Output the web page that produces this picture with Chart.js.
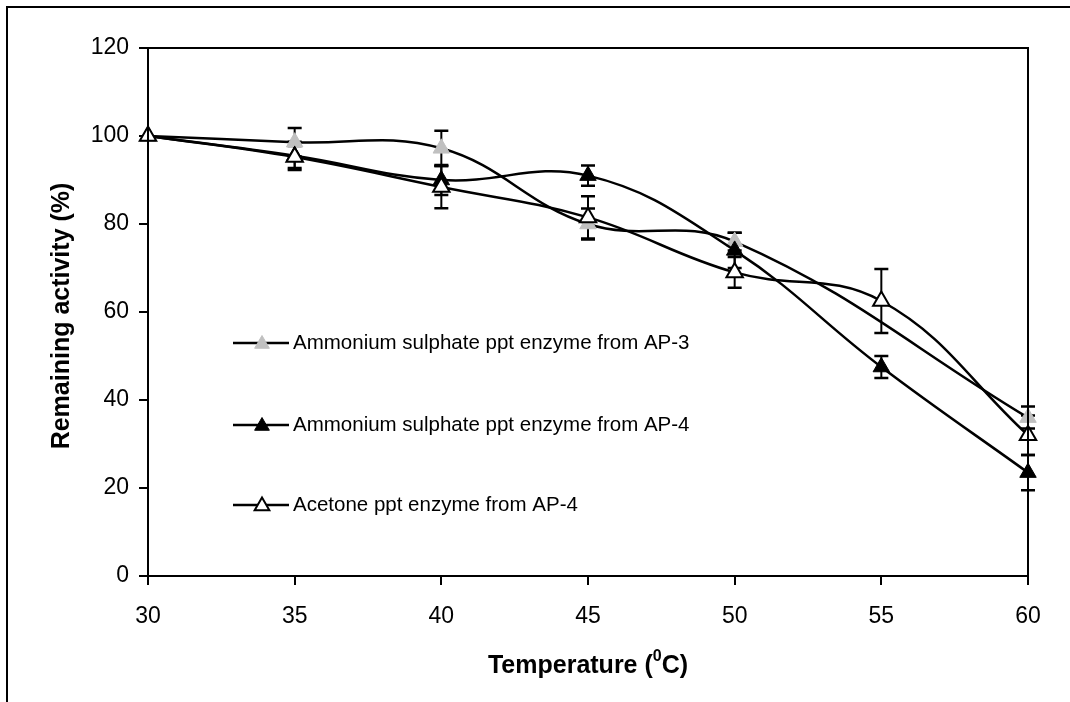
<!DOCTYPE html>
<html>
<head>
<meta charset="utf-8">
<script src="https://cdn.jsdelivr.net/npm/chart.js@4.4.1/dist/chart.umd.min.js"></script>
<style>
  html, body { margin: 0; padding: 0; background: #fff; }
  #wrap { width: 1070px; height: 702px; position: relative; }
</style>
</head>
<body>
<div id="wrap"><canvas id="myChart" width="1070" height="702"></canvas></div>
<script>
const temps = [30, 35, 40, 45, 50, 55, 60];
const ap3 = [100, 98.6, 97.2, 80, 76, null, 36];
const ap3Err = [0, 3.2, 4, 3.5, 2, null, 2.5];
const ap4 = [100, 95.5, 90, 91, 74, 47.5, 23.5];
const ap4Err = [0, 3.2, 3.4, 2.3, 4, 2.5, 4];
const acetone = [100, 95.2, 88.4, 81.5, 69, 62.5, 32];
const acetoneErr = [0, 2.5, 4.8, 4.8, 3.5, 7.3, 4.5];
const seriesNames = [
    'Ammonium sulphate ppt enzyme from AP-3',
    'Ammonium sulphate ppt enzyme from AP-4',
    'Acetone ppt enzyme from AP-4'
];
const yTicks = [0, 20, 40, 60, 80, 100, 120];

const FONT = '"Liberation Sans", Arial, sans-serif';

function points(values, errs) {
    return temps.map((t, i) => ({ x: t, y: values[i], err: errs[i] }))
        .filter(p => p.y !== null);
}

// error bars drawn under the markers
const errorBars = {
    id: 'errorBars',
    beforeDatasetsDraw(chart) {
        const ctx = chart.ctx;
        const xs = chart.scales.x, ys = chart.scales.y;
        ctx.save();
        ctx.strokeStyle = '#000';
        chart.data.datasets.forEach(ds => {
            ds.data.forEach(p => {
                if (!p.err) return;
                const x = xs.getPixelForValue(p.x);
                const top = ys.getPixelForValue(p.y + p.err);
                const bot = ys.getPixelForValue(p.y - p.err);
                ctx.lineWidth = 2;
                ctx.beginPath();
                ctx.moveTo(x, top); ctx.lineTo(x, bot);
                ctx.stroke();
                ctx.lineWidth = 2.5;
                ctx.beginPath();
                ctx.moveTo(x - 7, top); ctx.lineTo(x + 7, top);
                ctx.moveTo(x - 7, bot); ctx.lineTo(x + 7, bot);
                ctx.stroke();
            });
        });
        ctx.restore();
    }
};

function triangle(ctx, x, y, r, fill, stroke, lw) {
    ctx.beginPath();
    ctx.moveTo(x, y - r);
    ctx.lineTo(x + r * 0.866, y + r * 0.5);
    ctx.lineTo(x - r * 0.866, y + r * 0.5);
    ctx.closePath();
    ctx.fillStyle = fill;
    ctx.fill();
    ctx.strokeStyle = stroke;
    ctx.lineWidth = lw;
    ctx.stroke();
}

const decorations = {
    id: 'decorations',
    beforeDraw(chart) {
        const ctx = chart.ctx;
        ctx.save();
        ctx.strokeStyle = '#000';
        ctx.lineWidth = 2;
        ctx.beginPath();
        ctx.moveTo(7, 702); ctx.lineTo(7, 7); ctx.lineTo(1070, 7);
        ctx.stroke();
        ctx.restore();
    },
    afterDraw(chart) {
        const ctx = chart.ctx;
        const a = chart.chartArea;
        ctx.save();
        // plot frame
        ctx.strokeStyle = '#000';
        ctx.lineWidth = 2;
        ctx.strokeRect(a.left, a.top, a.right - a.left, a.bottom - a.top);

        // legend inside plot
        const rows = [343, 425, 505];
        chart.data.datasets.forEach((ds, i) => {
            const y = rows[i];
            ctx.strokeStyle = '#000';
            ctx.lineWidth = 2.5;
            ctx.beginPath();
            ctx.moveTo(233, y); ctx.lineTo(289, y);
            ctx.stroke();
            triangle(ctx, 262, y + 1, 8.5, ds.pointBackgroundColor, ds.pointBorderColor, ds.pointBorderWidth);
            ctx.fillStyle = '#000';
            ctx.font = '20.5px ' + FONT;
            ctx.textBaseline = 'middle';
            ctx.textAlign = 'left';
            ctx.fillText(ds.label, 293, y);
        });

        // axis titles
        ctx.fillStyle = '#000';
        ctx.textBaseline = 'middle';
        ctx.font = 'bold 25px ' + FONT;
        ctx.save();
        ctx.translate(62, (a.top + a.bottom) / 2 + 4);
        ctx.rotate(-Math.PI / 2);
        ctx.textAlign = 'center';
        ctx.fillText('Remaining activity (%)', 0, 0);
        ctx.restore();

        const p1 = 'Temperature (', p2 = '0', p3 = 'C)';
        ctx.font = 'bold 25px ' + FONT;
        const w1 = ctx.measureText(p1).width, w3 = ctx.measureText(p3).width;
        ctx.font = 'bold 16px ' + FONT;
        const w2 = ctx.measureText(p2).width;
        let x = (a.left + a.right) / 2 - (w1 + w2 + w3) / 2;
        const ty = 666;
        ctx.textAlign = 'left';
        ctx.font = 'bold 25px ' + FONT;
        ctx.fillText(p1, x, ty);
        x += w1;
        ctx.font = 'bold 16px ' + FONT;
        ctx.fillText(p2, x, ty - 9);
        x += w2;
        ctx.font = 'bold 25px ' + FONT;
        ctx.fillText(p3, x, ty);
        ctx.restore();
    }
};

document.addEventListener("DOMContentLoaded", function () {
    const ctx = document.getElementById('myChart');
    const common = {
        borderColor: '#000',
        borderWidth: 2.5,
        tension: 0.4,
        pointStyle: 'triangle',
        pointRadius: 9.5,
        pointHoverRadius: 9.5,
        spanGaps: true,
        clip: false
    };
    new Chart(ctx, {
        type: 'line',
        data: {
            datasets: [
                Object.assign({}, common, {
                    label: seriesNames[0],
                    data: points(ap3, ap3Err),
                    order: 3,
                    pointBackgroundColor: '#c0c0c0',
                    pointBorderColor: '#c0c0c0',
                    pointBorderWidth: 1
                }),
                Object.assign({}, common, {
                    label: seriesNames[1],
                    data: points(ap4, ap4Err),
                    order: 2,
                    pointBackgroundColor: '#000',
                    pointBorderColor: '#000',
                    pointBorderWidth: 1
                }),
                Object.assign({}, common, {
                    label: seriesNames[2],
                    data: points(acetone, acetoneErr),
                    order: 1,
                    pointBackgroundColor: '#fff',
                    pointBorderColor: '#000',
                    pointBorderWidth: 2
                })
            ]
        },
        options: {
            responsive: false,
            animation: false,
            events: [],
            layout: { padding: { top: 48, right: 42, left: 0, bottom: 0 } },
            plugins: { legend: { display: false }, tooltip: { enabled: false } },
            scales: {
                x: {
                    type: 'linear',
                    min: temps[0],
                    max: temps[temps.length - 1],
                    afterFit(s) { s.height = 126; },
                    afterBuildTicks(s) { s.ticks = temps.map(v => ({ value: v })); },
                    grid: { display: true, drawOnChartArea: false, drawTicks: true, tickLength: 9, color: '#000', lineWidth: 2 },
                    border: { display: true, color: '#000', width: 2 },
                    ticks: { color: '#000', padding: 18, maxRotation: 0, font: { size: 23, family: FONT } }
                },
                y: {
                    min: 0,
                    max: 120,
                    afterFit(s) { s.width = 148; },
                    afterBuildTicks(s) { s.ticks = yTicks.map(v => ({ value: v })); },
                    grid: { display: true, drawOnChartArea: false, drawTicks: true, tickLength: 9, color: '#000', lineWidth: 2 },
                    border: { display: true, color: '#000', width: 2 },
                    ticks: { color: '#000', padding: 10, font: { size: 23, family: FONT } }
                }
            }
        },
        plugins: [errorBars, decorations]
    });
});
</script>
</body>
</html>
